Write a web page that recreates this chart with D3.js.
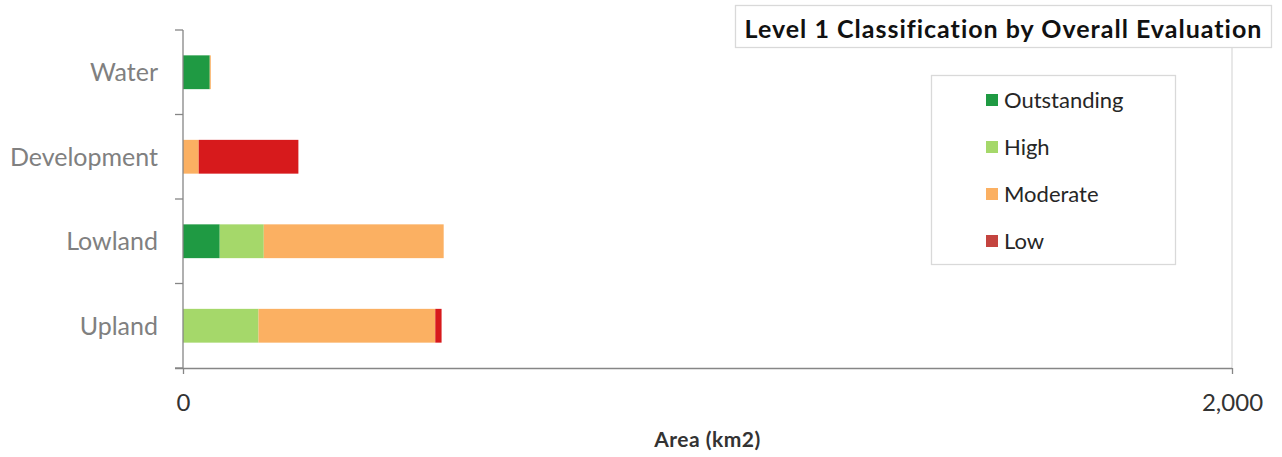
<!DOCTYPE html>
<html>
<head>
<meta charset="utf-8">
<script src="https://cdn.jsdelivr.net/npm/d3@7"></script>
<style>
  html, body { margin: 0; padding: 0; background: #fff; }
  svg { display: block; font-family: Lato, "Open Sans", sans-serif; }
</style>
</head>
<body>
<svg id="chart" width="1282" height="457"></svg>
<script>
// ---- data ----
const categories = ["Water", "Development", "Lowland", "Upland"];
const seriesNames = ["Outstanding", "High", "Moderate", "Low"];
const outstanding = [51, 0, 70, 0];
const high = [0, 0, 84, 144];
const moderate = [2, 30, 343, 337];
const low = [0, 190, 0, 12];
const xTickValues = [0, 2000];
const barColors = ["#1f9a43", "#a5d86a", "#fbb062", "#d71a1c"];
const legendColors = ["#1f9a43", "#a5d86a", "#fbb062", "#c4443f"];
const chartTitle = "Level 1 Classification by Overall Evaluation";
const xAxisTitle = "Area (km2)";

// ---- build stacked table ----
const seriesValues = [outstanding, high, moderate, low];
const table = categories.map((c, i) => {
  const row = { category: c };
  seriesNames.forEach((s, j) => { row[s] = seriesValues[j][i]; });
  return row;
});
const stacked = d3.stack().keys(seriesNames)(table);

// ---- layout ----
const svg = d3.select("#chart");
const plot = { left: 183, right: 1232, top: 30, bottom: 368 };

const x = d3.scaleLinear().domain([0, 2000]).range([plot.left, plot.right]);
const y = d3.scaleBand().domain(categories).range([plot.top, plot.bottom])
  .paddingInner(0.6).paddingOuter(0.3);
const color = d3.scaleOrdinal().domain(seriesNames).range(barColors);
const legendColor = d3.scaleOrdinal().domain(seriesNames).range(legendColors);

const axisColor = "#868686";

// vertical gridline at max tick
svg.append("g")
  .selectAll("line")
  .data(xTickValues.filter(d => d > 0))
  .join("line")
  .attr("x1", d => x(d)).attr("x2", d => x(d))
  .attr("y1", plot.top).attr("y2", plot.bottom)
  .attr("stroke", "#d9d9d9").attr("stroke-width", 1.2);

// bars
svg.append("g")
  .selectAll("g")
  .data(stacked)
  .join("g")
  .attr("fill", d => color(d.key))
  .selectAll("rect")
  .data(d => d)
  .join("rect")
  .attr("x", d => x(d[0]))
  .attr("y", d => y(d.data.category))
  .attr("width", d => Math.max(0, x(d[1]) - x(d[0])))
  .attr("height", y.bandwidth());

// x axis
const xAxis = d3.axisBottom(x).tickValues(xTickValues)
  .tickFormat(d3.format(",")).tickSize(6).tickPadding(20);
const gx = svg.append("g").attr("transform", `translate(0,${plot.bottom})`).call(xAxis);
gx.select(".domain").attr("stroke", axisColor).attr("stroke-width", 1.3)
  .attr("d", `M${plot.left - 8},0.5H${plot.right}`);
gx.selectAll(".tick line").attr("stroke", axisColor).attr("stroke-width", 1.3);
gx.selectAll(".tick text").attr("fill", "#333").attr("font-size", 24)
  .attr("font-family", "Lato, sans-serif");

// y axis (category) with ticks at band boundaries
const gy = svg.append("g").attr("transform", `translate(${plot.left},0)`);
gy.append("line").attr("x1", 0).attr("x2", 0)
  .attr("y1", plot.top).attr("y2", plot.bottom)
  .attr("stroke", axisColor).attr("stroke-width", 1.3);
const boundaries = d3.range(categories.length + 1).map(i => plot.top + i * y.step());
gy.selectAll("line.tk").data(boundaries).join("line").attr("class", "tk")
  .attr("x1", -8).attr("x2", 0).attr("y1", d => d).attr("y2", d => d)
  .attr("stroke", axisColor).attr("stroke-width", 1.3);
gy.selectAll("text").data(categories).join("text")
  .attr("x", -25)
  .attr("y", d => y(d) + y.bandwidth() / 2)
  .attr("dy", "0.35em")
  .attr("text-anchor", "end")
  .attr("font-size", 25)
  .attr("fill", "#808080")
  .text(d => d);

// x axis title
svg.append("text")
  .attr("x", (plot.left + plot.right) / 2)
  .attr("y", 440).attr("dy", "0.35em")
  .attr("text-anchor", "middle")
  .attr("font-size", 21).attr("font-weight", "bold")
  .attr("letter-spacing", 0.5)
  .attr("fill", "#333")
  .text(xAxisTitle);

// title box
svg.append("rect").attr("x", 735.5).attr("y", 5.5).attr("width", 536).attr("height", 42)
  .attr("fill", "#fff").attr("stroke", "#d9d9d9").attr("stroke-width", 1.3);
svg.append("text")
  .attr("x", 1003.5).attr("y", 29).attr("dy", "0.35em")
  .attr("text-anchor", "middle")
  .attr("font-size", 25).attr("font-weight", "bold")
  .attr("letter-spacing", 1)
  .attr("fill", "#111")
  .text(chartTitle);

// legend
const legend = svg.append("g");
legend.append("rect").attr("x", 931.5).attr("y", 75.5).attr("width", 244).attr("height", 189)
  .attr("fill", "#fff").attr("stroke", "#d9d9d9").attr("stroke-width", 1.3);
const legendY = d3.scalePoint().domain(seriesNames).range([100, 241]);
const li = legend.selectAll("g.item").data(seriesNames).join("g").attr("class", "item")
  .attr("transform", d => `translate(986,${legendY(d)})`);
li.append("rect").attr("x", 0).attr("y", -6).attr("width", 12).attr("height", 12)
  .attr("fill", d => legendColor(d));
li.append("text").attr("x", 18).attr("dy", "0.35em")
  .attr("font-size", 22).attr("fill", "#262626").text(d => d);
</script>
</body>
</html>
